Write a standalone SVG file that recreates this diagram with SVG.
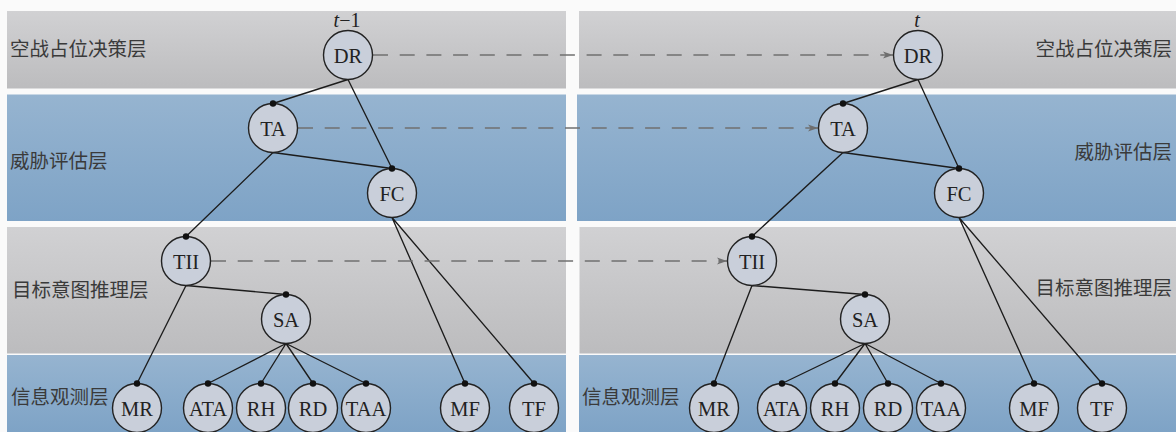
<svg xmlns="http://www.w3.org/2000/svg" width="1176" height="432" viewBox="0 0 1176 432">
<defs>
<linearGradient id="gGray" x1="0" y1="0" x2="0" y2="1">
<stop offset="0" stop-color="#d1d1d3"/>
<stop offset="1" stop-color="#bcbcbe"/>
</linearGradient>
<linearGradient id="gBlue" x1="0" y1="0" x2="0" y2="1">
<stop offset="0" stop-color="#96b4d0"/>
<stop offset="1" stop-color="#7ea3c6"/>
</linearGradient>
<marker id="arr" markerWidth="10" markerHeight="8" refX="10" refY="4" orient="auto" markerUnits="userSpaceOnUse">
<path d="M0,0.5 L10,4 L0,7.5 L2.5,4 Z" fill="#6e6e6e"/>
</marker>
<style>
.band-g{fill:url(#gGray)}
.band-b{fill:url(#gBlue)}
.lbl{font-family:"Noto Sans CJK SC","Noto Sans",sans-serif;font-size:19.5px;fill:#3a3a3a}
.node circle{fill:#c9cfda;stroke:#222;stroke-width:1.4}
.node text{font-family:"Liberation Serif",serif;font-size:20.5px;fill:#222;text-anchor:middle}
.edge{stroke:#1c1c1c;stroke-width:1.35;fill:none}
.dash{stroke:#707070;stroke-width:1.4;stroke-dasharray:15 11.7;fill:none}
.dot{fill:#111}
.time{font-family:"Liberation Serif",serif;font-size:20px;fill:#222;text-anchor:middle}
</style>
</defs>
<rect width="1176" height="432" fill="#fafafa"/>
<g id="bands">
<rect class="band-g" x="7" y="11" width="559" height="77.5"/>
<rect class="band-g" x="579" y="11" width="597" height="77.5"/>
<rect class="band-b" x="7" y="94.5" width="559" height="126.5"/>
<rect class="band-b" x="577" y="94.5" width="599" height="126.5"/>
<rect class="band-g" x="7" y="227" width="559" height="126.5"/>
<rect class="band-g" x="579.5" y="227" width="596.5" height="126.5"/>
<rect class="band-b" x="7" y="355" width="559" height="77"/>
<rect class="band-b" x="579" y="355" width="597" height="77"/>
</g>
<g id="layer-labels">
<text class="lbl" x="10" y="55.5">空战占位决策层</text>
<text class="lbl" x="10" y="167.5">威胁评估层</text>
<text class="lbl" x="12" y="296.5">目标意图推理层</text>
<text class="lbl" x="11" y="403.5">信息观测层</text>
<text class="lbl" x="1172" y="55.5" text-anchor="end">空战占位决策层</text>
<text class="lbl" x="1172" y="158.5" text-anchor="end">威胁评估层</text>
<text class="lbl" x="1172" y="294.5" text-anchor="end">目标意图推理层</text>
<text class="lbl" x="582" y="403.5">信息观测层</text>
</g>
<g id="time-labels">
<text class="time" x="347" y="27"><tspan font-style="italic">t</tspan>−1</text>
<text class="time" x="917" y="26.5" font-style="italic">t</text>
</g>
<g id="connectors">
<path class="edge" d="M348,79.5 L273,103.5 M348,79.5 L392,168.5 M273,152.5 L392,168.5 M273,152.5 L186,236.5 M186,285.5 L286,294.5 M186,285.5 L137,383.5 M286,343.5 L208,383.5 M286,343.5 L261,383.5 M286,343.5 L313,383.5 M286,343.5 L366,383.5 M392,217.5 L465,383.5 M392,217.5 L534,383.5"/>
<path class="edge" d="M918,79.5 L843,103.5 M918,79.5 L959,168.5 M843,152.5 L959,168.5 M843,152.5 L752,236.5 M752,285.5 L865,294.5 M752,285.5 L714,383.5 M865,343.5 L782,383.5 M865,343.5 L835,383.5 M865,343.5 L888,383.5 M865,343.5 L941,383.5 M959,217.5 L1034,383.5 M959,217.5 L1102,383.5"/>
<path class="dash" d="M373,55 L893,55" marker-end="url(#arr)"/>
<path class="dash" d="M298,128 L818,128" marker-end="url(#arr)"/>
<path class="dash" d="M211,261 L727,261" marker-end="url(#arr)"/>
</g>
<g id="nodes-left">
<g id="DR-1" class="node"><circle cx="348" cy="55" r="24.5"/><text x="348" y="62.5">DR</text></g>
<g id="TA-1" class="node"><circle cx="273" cy="128" r="24.5"/><text x="273" y="135.5">TA</text></g>
<g id="FC-1" class="node"><circle cx="392" cy="193" r="24.5"/><text x="392" y="200.5">FC</text></g>
<g id="TII-1" class="node"><circle cx="186" cy="261" r="24.5"/><text x="186" y="268.5">TII</text></g>
<g id="SA-1" class="node"><circle cx="286" cy="319" r="24.5"/><text x="286" y="326.5">SA</text></g>
<g id="MR-1" class="node"><circle cx="137" cy="408" r="24.5"/><text x="137" y="415.5">MR</text></g>
<g id="ATA-1" class="node"><circle cx="208" cy="408" r="24.5"/><text x="208" y="415.5">ATA</text></g>
<g id="RH-1" class="node"><circle cx="261" cy="408" r="24.5"/><text x="261" y="415.5">RH</text></g>
<g id="RD-1" class="node"><circle cx="313" cy="408" r="24.5"/><text x="313" y="415.5">RD</text></g>
<g id="TAA-1" class="node"><circle cx="366" cy="408" r="24.5"/><text x="366" y="415.5">TAA</text></g>
<g id="MF-1" class="node"><circle cx="465" cy="408" r="24.5"/><text x="465" y="415.5">MF</text></g>
<g id="TF-1" class="node"><circle cx="534" cy="408" r="24.5"/><text x="534" y="415.5">TF</text></g>
</g>
<g id="nodes-right">
<g id="DR-2" class="node"><circle cx="918" cy="55" r="24.5"/><text x="918" y="62.5">DR</text></g>
<g id="TA-2" class="node"><circle cx="843" cy="128" r="24.5"/><text x="843" y="135.5">TA</text></g>
<g id="FC-2" class="node"><circle cx="959" cy="193" r="24.5"/><text x="959" y="200.5">FC</text></g>
<g id="TII-2" class="node"><circle cx="752" cy="261" r="24.5"/><text x="752" y="268.5">TII</text></g>
<g id="SA-2" class="node"><circle cx="865" cy="319" r="24.5"/><text x="865" y="326.5">SA</text></g>
<g id="MR-2" class="node"><circle cx="714" cy="408" r="24.5"/><text x="714" y="415.5">MR</text></g>
<g id="ATA-2" class="node"><circle cx="782" cy="408" r="24.5"/><text x="782" y="415.5">ATA</text></g>
<g id="RH-2" class="node"><circle cx="835" cy="408" r="24.5"/><text x="835" y="415.5">RH</text></g>
<g id="RD-2" class="node"><circle cx="888" cy="408" r="24.5"/><text x="888" y="415.5">RD</text></g>
<g id="TAA-2" class="node"><circle cx="941" cy="408" r="24.5"/><text x="941" y="415.5">TAA</text></g>
<g id="MF-2" class="node"><circle cx="1034" cy="408" r="24.5"/><text x="1034" y="415.5">MF</text></g>
<g id="TF-2" class="node"><circle cx="1102" cy="408" r="24.5"/><text x="1102" y="415.5">TF</text></g>
</g>
<g id="dots">
<circle class="dot" cx="273" cy="103.5" r="3.2"/>
<circle class="dot" cx="392" cy="168.5" r="3.2"/>
<circle class="dot" cx="186" cy="236.5" r="3.2"/>
<circle class="dot" cx="286" cy="294.5" r="3.2"/>
<circle class="dot" cx="137" cy="383.5" r="3.2"/>
<circle class="dot" cx="208" cy="383.5" r="3.2"/>
<circle class="dot" cx="261" cy="383.5" r="3.2"/>
<circle class="dot" cx="313" cy="383.5" r="3.2"/>
<circle class="dot" cx="366" cy="383.5" r="3.2"/>
<circle class="dot" cx="465" cy="383.5" r="3.2"/>
<circle class="dot" cx="534" cy="383.5" r="3.2"/>
<circle class="dot" cx="843" cy="103.5" r="3.2"/>
<circle class="dot" cx="959" cy="168.5" r="3.2"/>
<circle class="dot" cx="752" cy="236.5" r="3.2"/>
<circle class="dot" cx="865" cy="294.5" r="3.2"/>
<circle class="dot" cx="714" cy="383.5" r="3.2"/>
<circle class="dot" cx="782" cy="383.5" r="3.2"/>
<circle class="dot" cx="835" cy="383.5" r="3.2"/>
<circle class="dot" cx="888" cy="383.5" r="3.2"/>
<circle class="dot" cx="941" cy="383.5" r="3.2"/>
<circle class="dot" cx="1034" cy="383.5" r="3.2"/>
<circle class="dot" cx="1102" cy="383.5" r="3.2"/>
</g>
</svg>
